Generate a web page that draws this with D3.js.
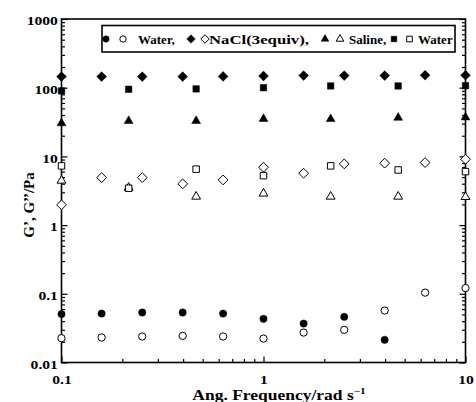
<!DOCTYPE html>
<html><head><meta charset="utf-8">
<script src="https://cdn.jsdelivr.net/npm/d3@7"></script>
<style>
body{margin:0;background:#fff}
svg text{font-family:"Liberation Serif","Times New Roman",serif;font-weight:bold;fill:#000}
</style>
</head><body>
<svg id="c" width="476" height="402"></svg>
<script>
// ---- data ----
const freq5 = [0.1,0.158,0.251,0.398,0.631,1,1.58,2.51,3.98,6.31,10];
const freq3 = [0.1,0.215,0.464,1,2.15,4.64,10];
const waterGp  = [0.0506,0.0516,0.0534,0.0534,0.0516,0.0432,0.0369,0.0462,0.0214,null,null];
const waterGpp = [0.0226,0.0231,0.0239,0.0244,0.0239,0.0223,0.0273,0.0299,0.0571,0.104,0.121];
const naclGp   = [145,145,145,145,146,148,150,150,150,152,152];
const naclGpp  = [1.97,4.91,4.91,3.98,4.55,6.97,5.69,7.78,7.97,8.13,9.1];
const salineGp  = [30.4,32.8,32.8,35.1,35,36.6,37];
const salineGpp = [4.44,3.5,2.6,2.88,2.6,2.6,2.57];
const water2Gp  = [89.8,94.8,96,100,106,106,107];
const water2Gpp = [7.28,3.44,6.52,5.25,7.28,6.35,6.01];
const yTickLabels = ["0.01","0.1","1","10","100","1000"];
const xTickLabels = ["0.1","1","10"];
const legendLabels = ["Water,","NaCl(3equiv),","Saline,","Water"];

// ---- layout ----
const svg = d3.select("#c");
const x = d3.scaleLog().domain([0.1,10]).range([61.5,465.5]);
const y = d3.scaleLog().domain([0.01,1000]).range([362.5,19]);
const SX = 1.2; // horizontal text stretch seen in the reference

const diamond = {draw(ctx,size){const r=Math.sqrt(size/2);ctx.moveTo(0,-r);ctx.lineTo(r,0);ctx.lineTo(0,r);ctx.lineTo(-r,0);ctx.closePath();}};
const mk = k => ({
  circle:d3.symbol().type(d3.symbolCircle).size(42*k)(),
  diamond:d3.symbol().type(diamond).size(48*k)(),
  triangle:d3.symbol().type(d3.symbolTriangle).size(34*k)(),
  square:d3.symbol().type(d3.symbolSquare).size(42*k)()
});
const shapes = mk(1), legShapes = mk(0.75);

// frame
svg.append("rect").attr("x",x.range()[0]).attr("y",y.range()[1])
  .attr("width",x.range()[1]-x.range()[0]).attr("height",y.range()[0]-y.range()[1])
  .attr("fill","none").attr("stroke","#000").attr("stroke-width",1.6);

const yMajor = yTickLabels.map(Number);
const yMinor = y.ticks().filter(v=>!yMajor.some(m=>Math.abs(m-v)/m<1e-6));
const xMajor = xTickLabels.map(Number);
const xMinor = x.ticks().filter(v=>!xMajor.some(m=>Math.abs(m-v)/m<1e-6));

function styleAxis(g){g.select(".domain").remove();g.selectAll("line").attr("stroke","#000").attr("stroke-width",1.2);}

// left axis
svg.append("g").attr("transform",`translate(${x.range()[0]},0)`)
  .call(d3.axisLeft(y).tickValues(yMajor).tickFormat((d,i)=>yTickLabels[i]).tickSizeInner(-6).tickSizeOuter(0).tickPadding(3))
  .call(styleAxis)
  .call(g=>g.selectAll("text").attr("font-size",13).attr("dy","0.45em").attr("transform",`scale(${SX},1)`));
svg.append("g").attr("transform",`translate(${x.range()[0]},0)`)
  .call(d3.axisLeft(y).tickValues(yMinor).tickFormat("").tickSizeInner(-3.5).tickSizeOuter(0))
  .call(styleAxis);
// right axis
svg.append("g").attr("transform",`translate(${x.range()[1]},0)`)
  .call(d3.axisRight(y).tickValues(yMajor).tickFormat("").tickSizeInner(-6).tickSizeOuter(0))
  .call(styleAxis);
svg.append("g").attr("transform",`translate(${x.range()[1]},0)`)
  .call(d3.axisRight(y).tickValues(yMinor).tickFormat("").tickSizeInner(-3.5).tickSizeOuter(0))
  .call(styleAxis);
// bottom axis
svg.append("g").attr("transform",`translate(0,${y.range()[0]})`)
  .call(d3.axisBottom(x).tickValues(xMajor).tickFormat((d,i)=>xTickLabels[i]).tickSizeInner(-6).tickSizeOuter(0).tickPadding(12.5))
  .call(styleAxis)
  .call(g=>g.selectAll("text").attr("font-size",13).attr("transform",`scale(${SX},1)`));
svg.append("g").attr("transform",`translate(0,${y.range()[0]})`)
  .call(d3.axisBottom(x).tickValues(xMinor).tickFormat("").tickSizeInner(-3.5).tickSizeOuter(0))
  .call(styleAxis);

// titles
const xt = svg.append("text").attr("transform",`translate(279,400) scale(1.25,1)`).attr("text-anchor","middle").attr("font-size",14);
xt.append("tspan").text("Ang. Frequency/rad s");
xt.append("tspan").attr("dy",-6).attr("font-size",9).text("\u22121");
svg.append("text").attr("transform","translate(34,205) rotate(-90)").attr("text-anchor","middle")
  .attr("font-size",15).text("G\u2019, G\u2019\u2019/Pa");

// data
const series = [
  {xs:freq5, vs:naclGp, shape:"diamond", filled:true},
  {xs:freq5, vs:naclGpp, shape:"diamond", filled:false},
  {xs:freq3, vs:salineGp, shape:"triangle", filled:true},
  {xs:freq3, vs:salineGpp, shape:"triangle", filled:false},
  {xs:freq3, vs:water2Gp, shape:"square", filled:true},
  {xs:freq3, vs:water2Gpp, shape:"square", filled:false},
  {xs:freq5, vs:waterGp, shape:"circle", filled:true},
  {xs:freq5, vs:waterGpp, shape:"circle", filled:false}
];
series.forEach(s=>{
  const pts = s.xs.map((f,i)=>({f,v:s.vs[i]})).filter(d=>d.v!=null);
  svg.append("g").selectAll("path").data(pts).join("path")
    .attr("d",shapes[s.shape])
    .attr("transform",d=>`translate(${x(d.f)},${y(d.v)})`)
    .attr("fill",s.filled?"#000":"#fff").attr("stroke","#000").attr("stroke-width",s.filled?0.5:1);
});

// legend
const lg = svg.append("g");
lg.append("rect").attr("x",102).attr("y",25.5).attr("width",353).attr("height",26.5)
  .attr("fill","#fff").attr("stroke","#000").attr("stroke-width",1.6);
const legItems = [
  {shape:"circle", xs:[106,123], tx:138, w:null, label:legendLabels[0]},
  {shape:"diamond", xs:[191,205], tx:209, w:100, label:legendLabels[1]},
  {shape:"triangle", xs:[325,340], tx:349, w:null, label:legendLabels[2]},
  {shape:"square", xs:[394,409.5], tx:418, w:null, label:legendLabels[3]}
];
legItems.forEach(it=>{
  it.xs.forEach((px,j)=>{
    lg.append("path").attr("d",legShapes[it.shape]).attr("transform",`translate(${px},39)`)
      .attr("fill",j===0?"#000":"#fff").attr("stroke","#000").attr("stroke-width",j===0?0.5:1);
  });
  const t = lg.append("text").attr("x",it.tx).attr("y",43.5).attr("font-size",13).text(it.label);
  if(it.w) t.attr("textLength",it.w).attr("lengthAdjust","spacingAndGlyphs");
});
</script>
</body></html>
